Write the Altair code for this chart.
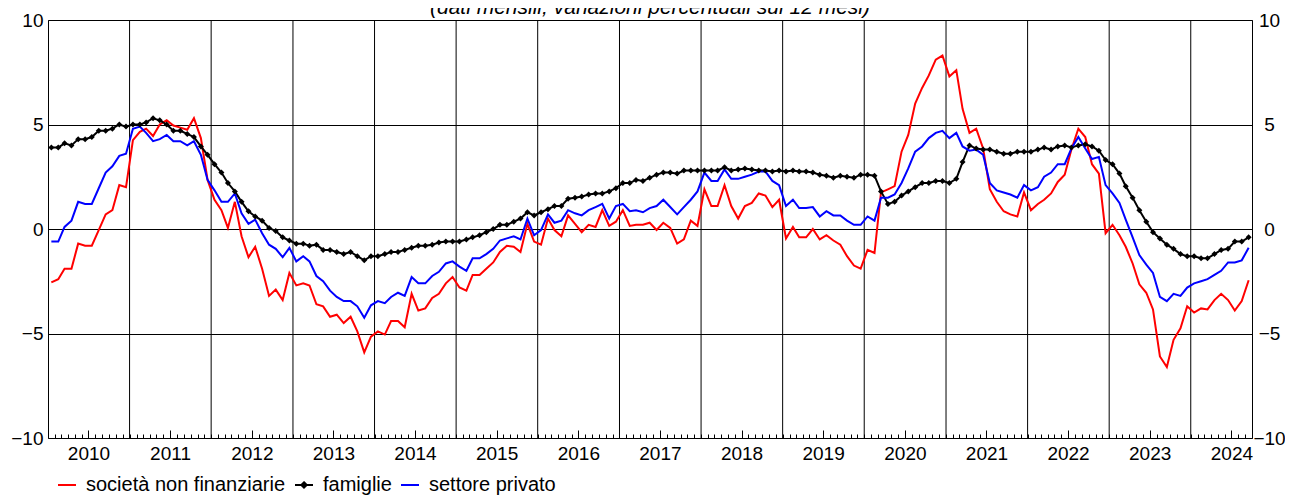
import altair as alt
import pandas as pd

# ---------------- data (monthly, Jan 2010 - Sep 2024) ----------------
series_names = ["società non finanziarie", "famiglie", "settore privato"]
series_colors = ["#ff0000", "#000000", "#0000ff"]

societa = [
    -2.55, -2.4, -1.9, -1.9, -0.7, -0.8, -0.8, -0.05, 0.7, 0.9, 2.1, 2.0,
    4.25, 4.65, 4.8, 4.45, 5.0, 5.2, 4.95, 4.85, 4.75, 5.3, 4.35, 2.35,
    1.4, 0.9, 0.05, 1.3, -0.35, -1.35, -0.85, -1.9, -3.2, -2.9, -3.4, -2.1,
    -2.7, -2.6, -2.7, -3.6, -3.7, -4.2, -4.1, -4.5, -4.2, -4.9, -5.9, -5.15,
    -4.9, -5.05, -4.4, -4.4, -4.7, -3.1, -3.9, -3.8, -3.3, -3.1, -2.6, -2.3,
    -2.8, -2.95, -2.2, -2.2, -1.9, -1.6, -1.1, -0.8, -0.85, -1.1, 0.25, -0.6,
    -0.75, 0.5, -0.05, -0.35, 0.65, 0.25, -0.15, 0.2, 0.1, 0.9, 0.15, 0.35,
    0.9, 0.15, 0.2, 0.2, 0.3, -0.05, 0.3, 0.05, -0.7, -0.5, 0.4, 0.15,
    1.9, 1.1, 1.1, 2.1, 1.1, 0.5, 1.1, 1.25, 1.7, 1.6, 1.05, 1.4,
    -0.45, 0.1, -0.4, -0.4, 0.0, -0.5, -0.3, -0.55, -0.75, -1.3, -1.75, -1.9,
    -1.0, -1.15, 1.75, 1.9, 2.05, 3.7, 4.5, 6.0, 6.75, 7.35, 8.1, 8.3,
    7.3, 7.6, 5.75, 4.6, 4.8, 3.85, 1.9, 1.3, 0.85, 0.7, 0.6, 1.75,
    0.9, 1.2, 1.4, 1.7, 2.25, 2.6, 3.8, 4.8, 4.4, 3.1, 2.65, -0.2,
    0.2, -0.3, -0.85, -1.65, -2.65, -3.05, -3.85, -6.1, -6.6, -5.3, -4.75, -3.7,
    -4.0, -3.8, -3.85, -3.4, -3.1, -3.4, -3.9, -3.45, -2.45,
]

famiglie = [
    3.9, 3.9, 4.1, 4.0, 4.3, 4.3, 4.4, 4.7, 4.7, 4.8, 5.0, 4.9,
    5.0, 5.0, 5.1, 5.3, 5.2, 5.0, 4.7, 4.7, 4.55, 4.4, 3.95, 3.55,
    3.1, 2.7, 2.2, 1.8, 1.3, 0.85, 0.6, 0.4, 0.05, -0.1, -0.4, -0.55,
    -0.7, -0.7, -0.8, -0.75, -1.0, -1.0, -1.1, -1.2, -1.1, -1.3, -1.5, -1.3,
    -1.3, -1.2, -1.1, -1.1, -1.0, -0.9, -0.8, -0.8, -0.75, -0.65, -0.6, -0.6,
    -0.6, -0.5, -0.4, -0.3, -0.15, 0.0, 0.2, 0.2, 0.35, 0.5, 0.8, 0.65,
    0.8, 0.95, 1.1, 1.1, 1.45, 1.5, 1.55, 1.65, 1.7, 1.7, 1.8, 1.95,
    2.2, 2.2, 2.35, 2.3, 2.45, 2.6, 2.7, 2.7, 2.65, 2.8, 2.8, 2.8,
    2.8, 2.8, 2.8, 2.95, 2.8, 2.85, 2.9, 2.85, 2.8, 2.8, 2.75, 2.8,
    2.75, 2.8, 2.75, 2.75, 2.7, 2.6, 2.55, 2.45, 2.55, 2.5, 2.45, 2.6,
    2.6, 2.55, 1.8, 1.2, 1.3, 1.6, 1.8, 2.0, 2.2, 2.2, 2.3, 2.3,
    2.2, 2.4, 3.2, 4.0, 3.85, 3.8, 3.8, 3.7, 3.6, 3.6, 3.7, 3.7,
    3.7, 3.8, 3.9, 3.8, 3.95, 4.0, 3.9, 4.0, 4.05, 3.95, 3.75, 3.3,
    3.1, 2.65, 2.05, 1.5, 0.9, 0.35, -0.15, -0.45, -0.75, -0.95, -1.2, -1.3,
    -1.3, -1.4, -1.4, -1.2, -1.0, -0.95, -0.6, -0.6, -0.4,
]

settore = [
    -0.6, -0.6, 0.1, 0.4, 1.3, 1.2, 1.2, 1.95, 2.7, 3.0, 3.5, 3.6,
    4.8, 4.9, 4.6, 4.2, 4.3, 4.5, 4.2, 4.2, 4.0, 4.2, 3.55, 2.35,
    1.85, 1.3, 1.3, 1.7, 0.75, 0.25, 0.45, -0.2, -0.75, -0.95, -1.35, -0.9,
    -1.55, -1.3, -1.55, -2.25, -2.5, -2.95, -3.25, -3.45, -3.45, -3.7, -4.25, -3.65,
    -3.45, -3.55, -3.25, -3.05, -3.2, -2.3, -2.6, -2.6, -2.25, -2.05, -1.65, -1.55,
    -1.8, -2.0, -1.4, -1.4, -1.2, -0.95, -0.55, -0.45, -0.35, -0.5, 0.5, -0.3,
    -0.05, 0.7, 0.3, 0.4, 0.9, 0.75, 0.65, 0.9, 1.05, 1.2, 0.5, 1.1,
    1.2, 0.85, 0.9, 0.8, 1.0, 1.1, 1.4, 1.05, 0.7, 1.05, 1.4, 1.8,
    2.7, 2.3, 2.3, 2.85, 2.4, 2.4, 2.5, 2.6, 2.75, 2.75, 2.3, 2.1,
    1.1, 1.4, 1.0, 1.0, 1.05, 0.6, 0.85, 0.65, 0.65, 0.4, 0.2, 0.2,
    0.6, 0.4, 1.5, 1.5, 1.65, 2.2, 2.9, 3.7, 3.95, 4.35, 4.6, 4.7,
    4.35, 4.6, 3.95, 3.75, 3.8, 3.55, 2.2, 1.85, 1.75, 1.65, 1.5, 2.1,
    1.85, 2.0, 2.5, 2.7, 3.1, 3.1, 3.85, 4.4, 3.85, 3.35, 3.45, 2.1,
    1.7, 1.25, 0.45, -0.4, -1.25, -1.7, -2.1, -3.25, -3.45, -3.1, -3.2, -2.8,
    -2.6, -2.5, -2.4, -2.2, -2.0, -1.6, -1.6, -1.5, -0.9,
]

y_ticks = [-10, -5, 0, 5, 10]
label_years = list(range(2010, 2025))
gridline_years = list(range(2011, 2025))
title_text = "(dati mensili; variazioni percentuali sui 12 mesi)"

# ---------------- tables ----------------
n = len(societa)
months = pd.date_range("2010-01-01", periods=n, freq="MS")
dates = (months + pd.Timedelta(days=15)).strftime("%Y-%m-%d")

rows = []
for name, vals in zip(series_names, [societa, famiglie, settore]):
    for d, v in zip(dates, vals):
        rows.append({"date": d, "serie": name, "value": v})
df = pd.DataFrame(rows)
df_fam = df[df["serie"] == "famiglie"]

grid_df = pd.DataFrame({"date": [f"{y}-01-01" for y in gridline_years]})
legend_df = pd.DataFrame({"date": ["2030-01-01"] * 3, "serie": series_names, "value": [0, 0, 0]})

FONT = "Liberation Sans"
AX_FS = 19
LEG_FS = 20

xscale = alt.Scale(
    type="utc",
    domain=[alt.DateTime(year=2010, month=1, date=1, utc=True),
            alt.DateTime(year=2024, month=10, date=1, utc=True)],
    nice=False,
)
yscale = alt.Scale(domain=[-10, 10], nice=False, zero=False)
color_scale = alt.Scale(domain=series_names, range=series_colors)

line_path = "M-1,0L1,0"
fam_path = "M-1,0L1,0M0,-0.3L0.3,0L0,0.3L-0.3,0Z"
shape_scale = alt.Scale(domain=series_names, range=[line_path, fam_path, line_path])

july_values = [alt.DateTime(year=y, month=7, date=1, utc=True) for y in label_years]
month_values = [alt.DateTime(year=2010 + i // 12, month=i % 12 + 1, date=1, utc=True)
                for i in range(1, 177)]

PLOT_H = 418

axis_bottom_labels = alt.Axis(
    orient="bottom", values=july_values, format="%Y", ticks=False, tickSize=0,
    domain=False, grid=False, labelFontSize=AX_FS, labelPadding=6, labelColor="black",
    labelFont=FONT, labelFlush=False, labelOverlap=False, title=None,
)
axis_month_ticks = alt.Axis(
    orient="top", offset=-PLOT_H, values=month_values, labels=False, ticks=True,
    tickSize=4, tickColor="black", tickWidth=1, domain=False, grid=False, title=None,
)
axis_july_ticks = alt.Axis(
    orient="top", offset=-PLOT_H, values=july_values, labels=False, ticks=True,
    tickSize=8, tickColor="black", tickWidth=1, domain=False, grid=False, title=None,
)
axis_left = alt.Axis(
    orient="left", values=y_ticks, grid=True, gridColor="black", gridOpacity=1,
    gridWidth=1, ticks=False, domain=False, labelFontSize=AX_FS, labelPadding=5,
    labelColor="black", labelFont=FONT, title=None, labelFlush=False,
)
axis_right = alt.Axis(
    orient="right", values=y_ticks, grid=False, ticks=False, tickSize=0, domain=False,
    labelFontSize=AX_FS, labelPadding=17, labelAlign="center", labelColor="black",
    labelFont=FONT, title=None, labelFlush=False,
)

legend = alt.Legend(
    title=None, orient="none", legendX=9, legendY=455, direction="horizontal",
    labelFontSize=LEG_FS, labelFont=FONT, labelColor="black", labelLimit=0,
    symbolSize=324, symbolStrokeWidth=2, labelOffset=9, columnPadding=5,
    padding=0, symbolOpacity=1,
)

rules = alt.Chart(grid_df).mark_rule(color="black", strokeWidth=1).encode(
    x=alt.X("date:T", scale=xscale, axis=None)
)

lines = alt.Chart(df).mark_line(strokeWidth=2).encode(
    x=alt.X("date:T", scale=xscale, axis=axis_bottom_labels),
    y=alt.Y("value:Q", scale=yscale, axis=axis_left),
    color=alt.Color("serie:N", scale=color_scale, legend=legend),
)

points = alt.Chart(df_fam).mark_point(
    shape="diamond", filled=True, size=36, color="black", opacity=1
).encode(
    x=alt.X("date:T", scale=xscale, axis=axis_month_ticks),
    y=alt.Y("value:Q", scale=yscale, axis=axis_right),
)

legend_layer = alt.Chart(legend_df).mark_point(
    filled=False, clip=True, strokeWidth=2, opacity=1
).encode(
    x=alt.X("date:T", scale=xscale, axis=axis_july_ticks),
    y=alt.Y("value:Q", scale=yscale, axis=None),
    color=alt.Color("serie:N", scale=color_scale, legend=legend),
    shape=alt.Shape("serie:N", scale=shape_scale, legend=legend),
)

chart = (
    alt.layer(rules, lines, points, legend_layer)
    .resolve_axis(x="independent", y="independent")
    .properties(
        width=1204,
        height=PLOT_H,
        padding={"left": 40, "top": 12, "right": 33, "bottom": 58},
        autosize=alt.AutoSizeParams(type="none"),
        title=alt.TitleParams(
            text=title_text, fontSize=21, fontStyle="italic", fontWeight="normal",
            anchor="middle", frame="group", offset=-24, baseline="alphabetic",
            color="black", font=FONT,
        ),
    )
    .configure(font=FONT)
    .configure_view(stroke="black", strokeWidth=1)
)

chart.save("out.html", embed_options={"renderer": "svg", "actions": False})
